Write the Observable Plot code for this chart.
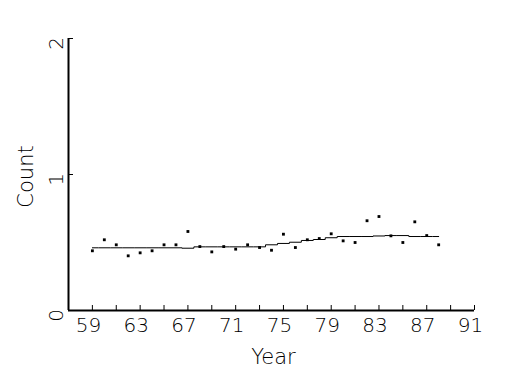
<!DOCTYPE html>
<html>
<head>
<meta charset="utf-8">
<script src="https://cdn.jsdelivr.net/npm/d3@7"></script>
<script src="https://cdn.jsdelivr.net/npm/@observablehq/plot@0.6"></script>
<style>
  html, body { margin: 0; padding: 0; background: #fff; }
  #chart svg { display: block; background: #fff; }
  #chart svg text { font-family: "DejaVu Sans", sans-serif; font-weight: 200; }
</style>
</head>
<body>
<div id="chart"></div>
<script>
// Data
const years = [59,60,61,62,63,64,65,66,67,68,69,70,71,72,73,74,75,76,77,78,79,80,81,82,83,84,85,86,87,88];
const counts = [0.439,0.52,0.483,0.402,0.424,0.439,0.483,0.483,0.581,0.47,0.431,0.47,0.451,0.483,0.463,0.443,0.561,0.463,0.52,0.529,0.564,0.512,0.5,0.66,0.691,0.549,0.5,0.652,0.551,0.483];
const trend = [0.461,0.461,0.461,0.461,0.461,0.461,0.461,0.461,0.458,0.468,0.468,0.468,0.468,0.468,0.468,0.483,0.493,0.502,0.515,0.522,0.535,0.544,0.544,0.544,0.548,0.551,0.551,0.544,0.544,0.544];
const xDomain = [57, 91];
const yDomain = [0, 2];
const xMinorTicks = [59,61,63,65,67,69,71,73,75,77,79,81,83,85,87,89,91];
const xTickLabels = [59,63,67,71,75,79,83,87,91];
const yTicks = [0, 1, 2];
const xLabel = "Year";
const yLabel = "Count";

const points = years.map((y, i) => ({year: y, count: counts[i]}));
const smooth = years.map((y, i) => ({year: y, value: trend[i]}));
const xMid = (xDomain[0] + xDomain[1]) / 2;
const yMid = (yDomain[0] + yDomain[1]) / 2;

const chart = Plot.plot({
  width: 525,
  height: 375,
  marginLeft: 68,
  marginRight: 51,
  marginTop: 38,
  marginBottom: 65,
  x: {domain: xDomain, axis: null},
  y: {domain: yDomain, axis: null},
  marks: [
    // inward ticks
    Plot.axisX({ticks: xMinorTicks, tickSize: -5, tickFormat: () => "", stroke: "black", label: null}),
    Plot.axisY({ticks: yTicks, tickSize: -5, tickFormat: () => "", stroke: "black", label: null}),
    // axis lines
    Plot.ruleY([yDomain[0]], {x1: xDomain[0], x2: xDomain[1], stroke: "black", strokeWidth: 2}),
    Plot.ruleX([xDomain[0]], {y1: yDomain[0], y2: yDomain[1], stroke: "black", strokeWidth: 2}),
    // tick labels
    Plot.text(xTickLabels, {x: d => d, y: yDomain[0], text: d => String(d), lineAnchor: "bottom", dy: 21, dx: -4, fontSize: 20, fill: "black", letterSpacing: 0.5}),
    Plot.text(yTicks, {x: xDomain[0], y: d => d, text: d => String(d), rotate: -90, lineAnchor: "bottom", dx: -6, dy: 5, fontSize: 20, fill: "black"}),
    // axis titles
    Plot.text([xLabel], {x: xMid, y: yDomain[0], text: d => d, lineAnchor: "bottom", dy: 53, dx: 2, fontSize: 21, fill: "black", letterSpacing: 4}),
    Plot.text([yLabel], {x: xDomain[0], y: yMid, text: d => d, rotate: -90, lineAnchor: "bottom", dx: -36, dy: 2, fontSize: 21, fill: "black", letterSpacing: 3.5}),
    // trend line
    Plot.line(smooth, {x: "year", y: "value", curve: "step", stroke: "black", strokeWidth: 1}),
    // points
    Plot.dot(points, {x: "year", y: "count", symbol: "square", r: 1.6, fill: "black", stroke: "none"})
  ]
});
document.getElementById("chart").appendChild(chart);
</script>
</body>
</html>
